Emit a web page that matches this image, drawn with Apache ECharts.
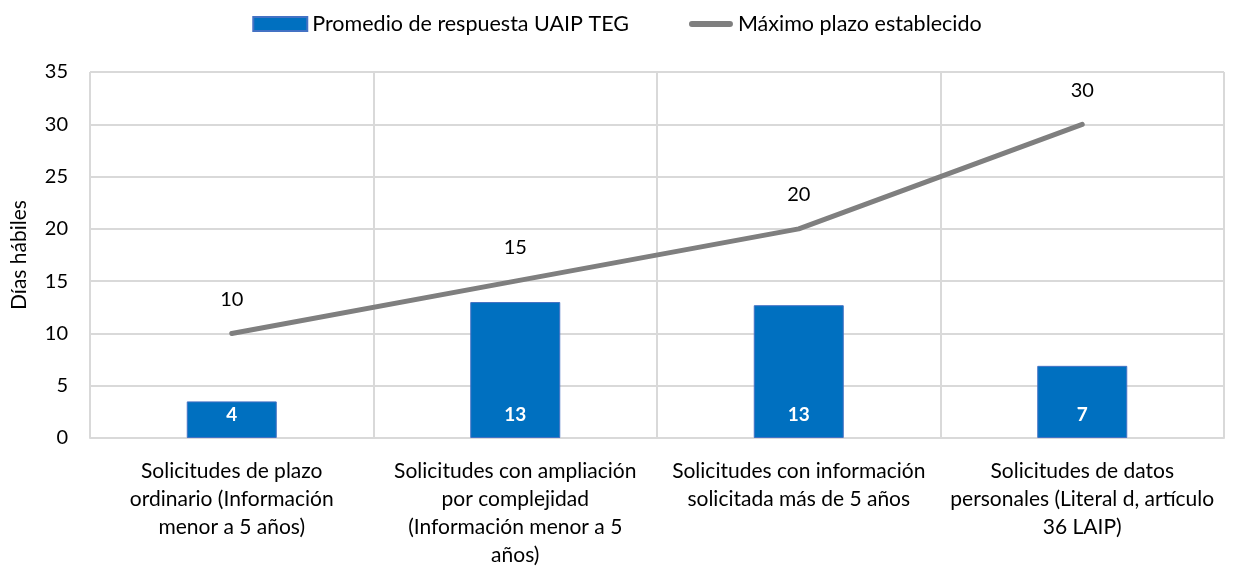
<!DOCTYPE html>
<html><head><meta charset="utf-8">
<script src="https://cdn.jsdelivr.net/npm/echarts@6/dist/echarts.min.js"></script>
<style>html,body{margin:0;padding:0;background:#fff}#c{width:1234px;height:569px}</style>
</head><body><div id="c"></div>
<script>
const categories = [
  "Solicitudes de plazo\nordinario (Información\nmenor a 5 años)",
  "Solicitudes con ampliación\npor complejidad\n(Información menor a 5\naños)",
  "Solicitudes con información\nsolicitada más de 5 años",
  "Solicitudes de datos\npersonales (Literal d, artículo\n36 LAIP)"
];
const promedio = [3.5, 13.0, 12.7, 6.9];
const maximo = [10, 15, 20, 30];
const seriesNames = ["Promedio de respuesta UAIP TEG", "Máximo plazo establecido"];

const FONT = "Lato, 'Noto Sans', sans-serif";
const LINE_ICON = 'path://M0,0 L0,0 M0,14 L0,14 M13,4 L51,4 A3,3 0 0 1 51,10 L13,10 A3,3 0 0 1 13,4 Z';
const chart = echarts.init(document.getElementById('c'), null, {renderer: 'canvas'});
chart.setOption({
  animation: false,
  textStyle: {fontFamily: FONT},
  legend: {
    top: 8, left: 'center', itemGap: 50, itemWidth: 54, itemHeight: 14,
    textStyle: {fontSize: 21.5, color: '#000', fontFamily: FONT},
    data: [
      {name: seriesNames[0], icon: 'rect'},
      {name: seriesNames[1], icon: LINE_ICON, itemStyle: {color: '#7f7f7f', borderWidth: 0}}
    ]
  },
  grid: {left: 90, right: 10, top: 72, bottom: 131},
  xAxis: {
    type: 'category', data: categories, boundaryGap: true,
    axisLine: {lineStyle: {color: '#d9d9d9', width: 2}},
    axisTick: {show: false},
    splitLine: {show: true, lineStyle: {color: '#d9d9d9', width: 2}},
    axisLabel: {fontSize: 21, color: '#000', lineHeight: 28, margin: 19, interval: 0, fontFamily: FONT}
  },
  yAxis: {
    type: 'value', min: 0, max: 35, interval: 5,
    name: 'Días hábiles', nameLocation: 'middle', nameGap: 60,
    nameTextStyle: {fontSize: 21, color: '#000', fontFamily: FONT},
    axisLine: {show: false}, axisTick: {show: false},
    splitLine: {lineStyle: {color: '#d9d9d9', width: 2}},
    axisLabel: {fontSize: 20, color: '#000', margin: 22, fontFamily: FONT}
  },
  series: [
    {
      name: seriesNames[0], type: 'bar', data: promedio, barWidth: 90,
      itemStyle: {color: '#0070c0', borderColor: '#4472c4', borderWidth: 1},
      label: {show: true, position: 'insideBottom', distance: 14, color: '#fff', fontWeight: 'bold', fontSize: 19,
        fontFamily: FONT, formatter: p => Math.round(p.value)}
    },
    {
      name: seriesNames[1], type: 'line', data: maximo, symbol: 'none',
      lineStyle: {color: '#7f7f7f', width: 5, cap: 'round'},
      itemStyle: {color: '#7f7f7f'}
    },
    {
      name: 'labels', type: 'scatter', data: maximo, symbolSize: 0, silent: true,
      itemStyle: {color: 'transparent', opacity: 1},
      label: {show: true, position: 'top', distance: 24, color: '#000', opacity: 1, fontSize: 20, fontFamily: FONT}
    }
  ]
});
</script></body></html>
